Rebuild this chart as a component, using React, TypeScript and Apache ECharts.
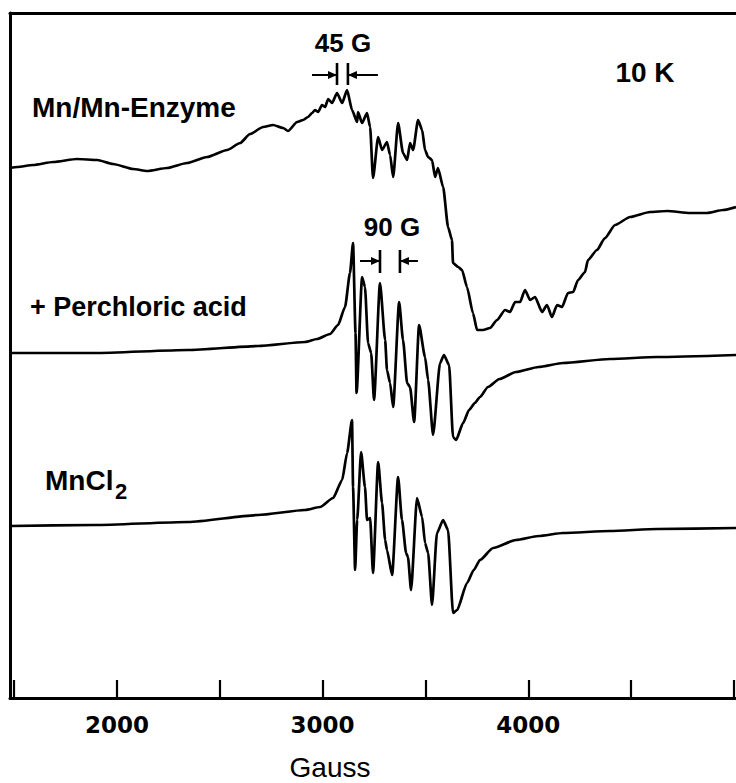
import React, { useEffect, useRef } from "react";
import * as echarts from "echarts";

// Field axis (Gauss)
const xTicks = [1500, 2000, 2500, 3000, 3500, 4000, 4500, 5000];
const xLabels = [2000, 3000, 4000];
const seriesNames = ["Mn/Mn-Enzyme", "+ Perchloric acid", "MnCl2"];
// vertical offsets of each trace (arbitrary units)
const baselineOffsets = [531, 345, 172];

// [field G, signal (arb.)]
const enzyme: number[][] = [
  [1481, -1], [1515, 0], [1592, 2], [1690, 5], [1806, 8], [1904, 7], [1981, 3], [2079, -2], [2147, -4],
  [2244, -1], [2341, 4], [2438, 10], [2536, 17], [2599, 24], [2647, 33], [2711, 40], [2759, 42], [2808, 39],
  [2832, 36], [2876, 45], [2905, 47], [2929, 50], [2949, 54], [2963, 57], [2978, 55], [2997, 62], [3012, 60],
  [3027, 68], [3046, 64], [3070, 74], [3095, 64], [3119, 77], [3143, 57], [3168, 45], [3172, 55], [3192, 44],
  [3216, 54], [3231, 40], [3245, -11], [3270, 30], [3289, 17], [3313, 25], [3328, 12], [3343, -10], [3367, 44],
  [3391, 14], [3411, 7], [3425, 24], [3440, 17], [3464, 47], [3484, 37], [3498, 17], [3513, 10], [3532, 7],
  [3547, -10], [3561, -1], [3586, -20], [3610, -60], [3629, -73], [3634, -96], [3659, -100], [3678, -103],
  [3702, -120], [3731, -146], [3751, -163], [3780, -163], [3814, -161], [3848, -153], [3887, -143], [3911, -145],
  [3936, -135], [3960, -135], [3984, -123], [4009, -133], [4033, -130], [4067, -145], [4091, -138], [4115, -150],
  [4140, -138], [4164, -140], [4193, -126], [4218, -125], [4242, -113], [4276, -105], [4290, -93], [4334, -83],
  [4373, -71], [4422, -58], [4495, -50], [4592, -45], [4675, -44], [4786, -46], [4869, -46], [4947, -43], [5010, -40],
];

const perchloric: number[][] = [
  [1481, 0], [1889, 0], [2346, 3], [2686, 7], [2915, 11], [2973, 14], [3036, 19], [3075, 28], [3109, 46],
  [3133, 80], [3148, 110], [3160, 20], [3165, -40], [3192, 76], [3206, 66], [3221, 10], [3236, 0], [3250, -47],
  [3279, 70], [3304, 13], [3313, -17], [3328, -30], [3343, -54], [3372, 51], [3391, 13], [3411, -30], [3425, -34],
  [3445, -69], [3469, 28], [3498, -4], [3513, -27], [3537, -82], [3571, -10], [3590, -2], [3615, -12], [3634, -84],
  [3649, -87], [3683, -70], [3712, -57], [3740, -50], [3765, -44], [3804, -34], [3860, -26], [3940, -19],
  [4050, -14], [4169, -10], [4397, -6], [4626, -4], [5010, -2],
];

const mncl2: number[][] = [
  [1481, 0], [1889, 1], [2346, 4], [2686, 11], [2915, 16], [2988, 19], [3051, 28], [3095, 46], [3119, 73],
  [3143, 106], [3148, 39], [3158, -44], [3168, 6], [3187, 74], [3206, 39], [3216, 6], [3231, 8], [3245, -47],
  [3270, 64], [3289, 23], [3304, -14], [3313, -24], [3338, -49], [3367, 49], [3386, 6], [3406, -27], [3415, -31],
  [3430, -64], [3459, 28], [3484, 9], [3498, -17], [3513, -27], [3532, -79], [3556, -7], [3586, 6], [3610, -4],
  [3634, -87], [3654, -84], [3702, -57], [3735, -44], [3765, -34], [3829, -22], [3940, -14], [4050, -10],
  [4169, -7], [4397, -5], [4626, -3], [5010, -2],
];

const traces = [enzyme, perchloric, mncl2];

// hyperfine spacing markers (field values of the bars)
const marker45 = [3070, 3123];
const marker90 = [3279, 3376];

const FONT = "'Liberation Sans', Arial, Helvetica, sans-serif";
const TICK_FONT = "'DejaVu Sans', 'Liberation Sans', sans-serif";

export default function App() {
  const ref = useRef<HTMLDivElement>(null);
  useEffect(() => {
    document.body.style.margin = "0";
    const chart = echarts.init(ref.current!, null, { renderer: "svg" });
    const series = traces.map((t, i) => ({
      type: "line",
      name: seriesNames[i],
      data: t.map(([g, s]) => [g, s + baselineOffsets[i]]),
      symbol: "none",
      showSymbol: false,
      silent: true,
      smooth: 0.2,
      smoothMonotone: "x",
      lineStyle: { color: "#000", width: 2.7, join: "round" },
    }));
    chart.setOption({
      animation: false,
      backgroundColor: "#fff",
      grid: { left: 10, right: 0, top: 13, bottom: 85 },
      xAxis: [
        {
          type: "value",
          min: 1480,
          max: 5010,
          axisLine: { show: true, onZero: false, lineStyle: { color: "#000", width: 3 } },
          axisTick: { show: true, inside: true, length: 18, customValues: xTicks, lineStyle: { color: "#000", width: 2.2 } },
          axisLabel: {
            show: true,
            customValues: xLabels,
            formatter: (v: number) => String(v),
            margin: 15,
            color: "#000",
            fontFamily: TICK_FONT,
            fontWeight: "bold",
            fontSize: 23,
          },
          splitLine: { show: false },
        },
        {
          type: "value",
          position: "top",
          min: 1480,
          max: 5010,
          axisLine: { show: true, onZero: false, lineStyle: { color: "#000", width: 3 } },
          axisTick: { show: false },
          axisLabel: { show: false },
          splitLine: { show: false },
        },
      ],
      yAxis: {
        type: "value",
        min: 0,
        max: 685,
        axisLine: { show: true, onZero: false, lineStyle: { color: "#000", width: 3 } },
        axisTick: { show: false },
        axisLabel: { show: false },
        splitLine: { show: false },
      },
      series,
    });

    const px = (g: number) => chart.convertToPixel({ xAxisIndex: 0 }, g) as number;
    const arrows = (xl: number, xr: number, y: number, yTop: number, yBot: number, lenL: number, lenR: number) => [
      { type: "line", shape: { x1: xl, y1: yTop, x2: xl, y2: yBot }, style: { stroke: "#000", lineWidth: 2.6 } },
      { type: "line", shape: { x1: xl - lenL, y1: y, x2: xl, y2: y }, style: { stroke: "#000", lineWidth: 2 } },
      { type: "polygon", shape: { points: [[xl, y], [xl - 9, y - 4], [xl - 9, y + 4]] }, style: { fill: "#000" } },
      { type: "line", shape: { x1: xr, y1: yTop, x2: xr, y2: yBot }, style: { stroke: "#000", lineWidth: 2.6 } },
      { type: "line", shape: { x1: xr, y1: y, x2: xr + lenR, y2: y }, style: { stroke: "#000", lineWidth: 2 } },
      { type: "polygon", shape: { points: [[xr, y], [xr + 9, y - 4], [xr + 9, y + 4]] }, style: { fill: "#000" } },
    ];
    const txt = (text: string, x: number, y: number, size: number, weight: string, align: string) => ({
      type: "text",
      x,
      y,
      style: { text, fill: "#000", fontFamily: FONT, fontSize: size, fontWeight: weight, align, verticalAlign: "middle" },
    });

    chart.setOption({
      graphic: [
        txt("Mn/Mn-Enzyme", 32, 107, 28, "bold", "left"),
        txt("45 G", 343, 43, 26, "bold", "center"),
        txt("10 K", 645, 72, 28, "bold", "center"),
        txt("90 G", 392, 227, 26, "bold", "center"),
        txt("+ Perchloric acid", 30, 307, 27, "bold", "left"),
        txt("MnCl", 45, 480, 28, "bold", "left"),
        txt("2", 115, 491, 22, "bold", "left"),
        txt("Gauss", 330, 767, 28, "normal", "center"),
        ...arrows(px(marker45[0]), px(marker45[1]), 75, 63, 85, 25, 30),
        ...arrows(px(marker90[0]), px(marker90[1]), 261, 250, 273, 20, 18),
      ],
    });
    return () => chart.dispose();
  }, []);
  return <div ref={ref} style={{ position: "fixed", left: 0, top: 0, width: 736, height: 783 }} />;
}
